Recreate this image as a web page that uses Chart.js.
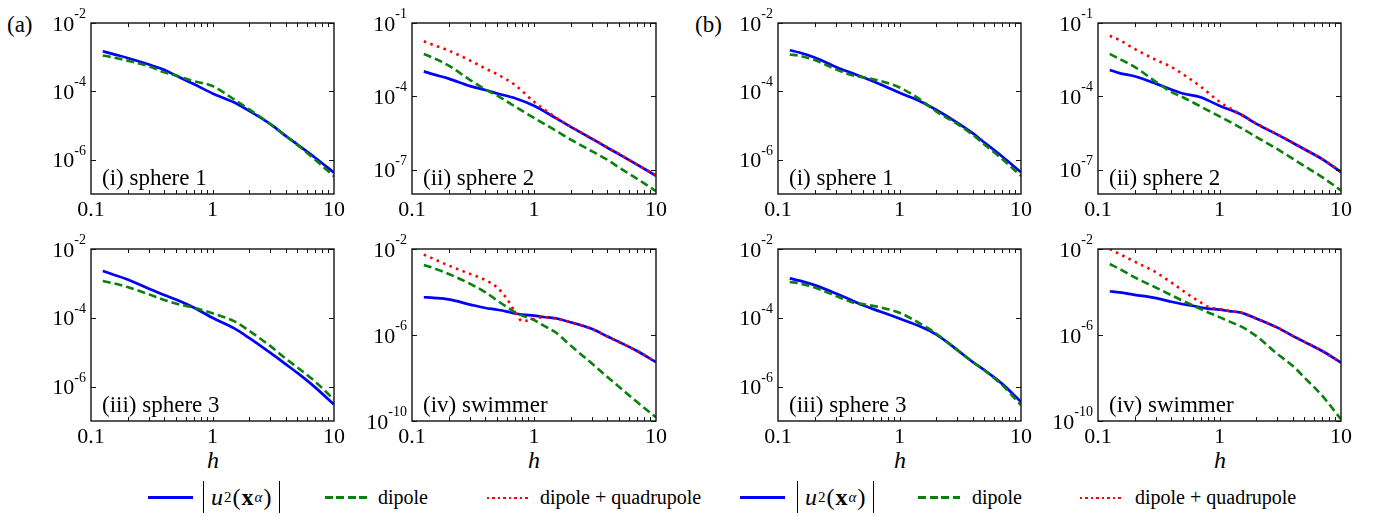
<!DOCTYPE html>
<html>
<head>
<meta charset="utf-8">
<script src="https://cdn.jsdelivr.net/npm/chart.js@4.4.1/dist/chart.umd.min.js"></script>
<style>
  body { margin:0; background:#fff; }
  #fig { position:relative; width:1379px; height:516px; overflow:hidden; font-family:"Liberation Serif","DejaVu Serif","Times New Roman",serif; color:#000; }
  #fig canvas { position:absolute; }
  .txt { position:absolute; font-size:23px; line-height:1; white-space:nowrap; }
  .hlab { position:absolute; font-size:24px; font-style:italic; line-height:1; width:30px; margin-left:-15px; text-align:center; }
  .leg { position:absolute; font-size:20px; line-height:1; white-space:nowrap; }
  .lline { position:absolute; height:3px; }
  .formula { position:absolute; height:32px; display:flex; align-items:center; border-left:1.5px solid #000; border-right:1.5px solid #000; padding:0 7px; font-size:24px; letter-spacing:1px; }
  .formula sub, .formula sup { font-size:15px; }
</style>
</head>
<body>
<div id="fig">
  <div class="txt" style="left:7px;top:13px;">(a)</div>
  <div class="txt" style="left:695px;top:13px;">(b)</div>
  <div class="hlab" style="left:213px;top:448px;">h</div>
  <div class="hlab" style="left:534px;top:448px;">h</div>
  <div class="hlab" style="left:900px;top:448px;">h</div>
  <div class="hlab" style="left:1220px;top:448px;">h</div>
</div>

<script>
// h values (x axis)
const hGrid = [0.125, 0.15, 0.2, 0.3, 0.4, 0.5, 0.7, 1, 1.5, 2, 3, 4, 5, 7, 10];
const hSwim = [0.125, 0.15, 0.2, 0.3, 0.4, 0.5, 0.6, 0.7, 0.8, 1, 1.2, 1.5, 2, 3, 4, 5, 7, 10];

// (a) panels
const a1Blue  = [1.5e-3, 1.25e-3, 9.5e-4, 6.1e-4, 4.3e-4, 2.9e-4, 1.64e-4, 8.7e-5, 4.8e-5, 2.7e-5, 1.1e-5, 5.0e-6, 2.8e-6, 1.15e-6, 4.2e-7];
const a1Green = [1.12e-3, 1.0e-3, 7.9e-4, 5.4e-4, 3.6e-4, 2.9e-4, 2.0e-4, 1.44e-4, 5.9e-5, 3.0e-5, 1.1e-5, 5.0e-6, 2.7e-6, 1.0e-6, 3.3e-7];

const a2Blue  = [1.05e-3, 7.9e-4, 5.3e-4, 2.6e-4, 1.8e-4, 1.3e-4, 8.3e-5, 4.1e-5, 1.3e-5, 5.6e-6, 1.8e-6, 7.8e-7, 4.2e-7, 1.6e-7, 5.6e-8];
const a2Green = [5.4e-3, 3.7e-3, 1.8e-3, 4.6e-4, 1.9e-4, 1.07e-4, 3.8e-5, 1.3e-5, 4.0e-6, 1.7e-6, 5.5e-7, 2.5e-7, 1.2e-7, 4.2e-8, 1.3e-8];
const a2Red   = [1.78e-2, 1.26e-2, 7.4e-3, 2.9e-3, 1.36e-3, 7.9e-4, 2.9e-4, 6.0e-5, 1.4e-5, 5.7e-6, 1.85e-6, 8.0e-7, 4.3e-7, 1.6e-7, 5.8e-8];

const a3Blue  = [2.3e-3, 1.85e-3, 1.3e-3, 7.0e-4, 4.6e-4, 3.4e-4, 2.0e-4, 1.0e-4, 5.0e-5, 2.6e-5, 9.5e-6, 4.5e-6, 2.5e-6, 9.5e-7, 3.0e-7];
const a3Green = [1.17e-3, 1.02e-3, 7.8e-4, 4.8e-4, 3.3e-4, 2.6e-4, 1.95e-4, 1.35e-4, 8.0e-5, 4.2e-5, 1.5e-5, 6.5e-6, 3.6e-6, 1.4e-6, 4.2e-7];

const a4Blue  = [5.7e-5, 5.3e-5, 4.5e-5, 2.6e-5, 1.8e-5, 1.5e-5, 1.23e-5, 1.0e-5, 8.9e-6, 8.0e-6, 6.9e-6, 6.0e-6, 3.9e-6, 1.9e-6, 8.5e-7, 4.7e-7, 1.8e-7, 5.5e-8];
const a4Green = [1.8e-3, 1.3e-3, 6.9e-4, 2.4e-4, 9.7e-5, 4.0e-5, 2.0e-5, 1.15e-5, 8.0e-6, 5.0e-6, 2.7e-6, 1.35e-6, 3.2e-7, 4.6e-8, 1.1e-8, 3.8e-9, 7.6e-10, 1.5e-10];
const a4Red   = [5.5e-3, 3.5e-3, 1.7e-3, 6.9e-4, 3.6e-4, 1.6e-4, 4.8e-5, 1.15e-5, 4.4e-6, 5.6e-6, 6.8e-6, 5.8e-6, 3.9e-6, 1.85e-6, 8.5e-7, 4.6e-7, 1.8e-7, 5.6e-8];

// (b) panels
const b1Blue  = [1.6e-3, 1.37e-3, 9.8e-4, 5.2e-4, 3.5e-4, 2.6e-4, 1.6e-4, 9.1e-5, 5.0e-5, 2.9e-5, 1.2e-5, 6.0e-6, 3.2e-6, 1.25e-6, 4.3e-7];
const b1Green = [1.2e-3, 1.1e-3, 8.2e-4, 4.4e-4, 3.0e-4, 2.6e-4, 2.0e-4, 1.3e-4, 5.6e-5, 2.6e-5, 1.1e-5, 5.4e-6, 2.8e-6, 1.05e-6, 3.4e-7];

const b2Blue  = [1.2e-3, 8.9e-4, 6.6e-4, 3.3e-4, 1.9e-4, 1.3e-4, 9.1e-5, 4.1e-5, 1.8e-5, 7.6e-6, 2.7e-6, 1.26e-6, 6.8e-7, 2.7e-7, 7.8e-8];
const b2Green = [5.4e-3, 3.4e-3, 1.6e-3, 3.9e-4, 1.5e-4, 9.1e-5, 3.8e-5, 1.5e-5, 5.1e-6, 2.2e-6, 6.8e-7, 2.8e-7, 1.4e-7, 4.9e-8, 1.4e-8];
const b2Red   = [3.0e-2, 2.0e-2, 8.7e-3, 3.1e-3, 1.6e-3, 8.0e-4, 2.5e-4, 6.0e-5, 1.8e-5, 7.8e-6, 2.75e-6, 1.28e-6, 6.8e-7, 2.7e-7, 8.3e-8];

const b3Blue  = [1.4e-3, 1.2e-3, 8.9e-4, 5.1e-4, 3.3e-4, 2.3e-4, 1.5e-4, 9.5e-5, 5.5e-5, 3.3e-5, 1.15e-5, 5.2e-6, 3.0e-6, 1.2e-6, 3.6e-7];
const b3Green = [1.1e-3, 1.0e-3, 7.6e-4, 4.3e-4, 2.9e-4, 2.5e-4, 2.0e-4, 1.4e-4, 6.6e-5, 3.5e-5, 1.15e-5, 5.2e-6, 3.0e-6, 1.1e-6, 2.9e-7];

const b4Blue  = [1.08e-4, 9.6e-5, 7.4e-5, 5.2e-5, 3.5e-5, 2.7e-5, 2.3e-5, 1.9e-5, 1.7e-5, 1.5e-5, 1.3e-5, 1.1e-5, 5.9e-6, 2.2e-6, 9.1e-7, 4.8e-7, 1.8e-7, 5.2e-8];
const b4Green = [2.0e-3, 1.2e-3, 4.8e-4, 1.6e-4, 7.2e-5, 3.9e-5, 2.4e-5, 1.6e-5, 1.15e-5, 6.8e-6, 4.3e-6, 2.5e-6, 9.1e-7, 1.3e-7, 3.7e-8, 1.05e-8, 1.5e-9, 1.2e-10];
const b4Red   = [1.0e-2, 5.9e-3, 2.6e-3, 8.2e-4, 2.8e-4, 1.15e-4, 5.6e-5, 3.3e-5, 2.1e-5, 1.6e-5, 1.3e-5, 1.1e-5, 5.9e-6, 2.2e-6, 9.1e-7, 4.8e-7, 1.8e-7, 5.2e-8];

// tick values
const xTicks = [0.1, 1, 10];
const xMinor = [0.2, 0.3, 0.4, 0.5, 0.6, 0.7, 0.8, 0.9, 1, 2, 3, 4, 5, 6, 7, 8, 9];
const ySphere = [1e-2, 1e-4, 1e-6];
const ySphere2 = [1e-1, 1e-4, 1e-7];
const ySwim = [1e-2, 1e-6, 1e-10];

const BLUE = '#0000ff', GREEN = '#0b800b', RED = '#ff0000';
const FONT = '"Liberation Serif", "DejaVu Serif", "Times New Roman", serif';
const PAD = {left: 85, right: 15, top: 22, bottom: 40};

// frame, inward ticks, tick labels, panel title
const panelDeco = {
    id: 'panelDeco',
    afterDraw(chart, args, opts) {
        const ctx = chart.ctx;
        const a = chart.chartArea;
        const xs = chart.scales.x, ys = chart.scales.y;
        ctx.save();
        ctx.strokeStyle = '#111';
        ctx.lineWidth = 1.4;
        ctx.strokeRect(a.left, a.top, a.right - a.left, a.bottom - a.top);
        ctx.lineWidth = 1;
        ctx.beginPath();
        xMinor.forEach(v => {
            const px = Math.round(xs.getPixelForValue(v)) + 0.5;
            ctx.moveTo(px, a.bottom); ctx.lineTo(px, a.bottom - 4);
            ctx.moveTo(px, a.top); ctx.lineTo(px, a.top + 4);
        });
        opts.yTicks.forEach(v => {
            const py = Math.round(ys.getPixelForValue(v)) + 0.5;
            ctx.moveTo(a.left, py); ctx.lineTo(a.left + 5, py);
            ctx.moveTo(a.right, py); ctx.lineTo(a.right - 5, py);
        });
        ctx.stroke();

        ctx.fillStyle = '#000';
        // x labels
        ctx.font = '22px ' + FONT;
        ctx.textAlign = 'center';
        ctx.textBaseline = 'alphabetic';
        xTicks.forEach(v => {
            ctx.fillText(String(v), xs.getPixelForValue(v), a.bottom + 22);
        });
        // y labels 10^n
        opts.yTicks.forEach(v => {
            const py = ys.getPixelForValue(v);
            const exp = '-' + Math.abs(Math.round(Math.log10(v)));
            ctx.font = '14px ' + FONT;
            const ew = ctx.measureText(exp).width;
            ctx.textAlign = 'left';
            ctx.fillText(exp, a.left - 5 - ew, py - 5);
            ctx.font = '22px ' + FONT;
            ctx.textAlign = 'right';
            ctx.fillText('10', a.left - 5 - ew, py + 7.5);
        });
        // title inside
        ctx.font = '23px ' + FONT;
        ctx.textAlign = 'left';
        ctx.fillText(opts.title, a.left + 11, a.bottom - 9);
        ctx.restore();
    }
};

const pts = (hs, vals) => hs.map((h, i) => ({x: h, y: vals[i]}));

const makePanel = function(p) {
    const w = (p.R - p.L) + PAD.left + PAD.right;
    const hgt = (p.B - p.T) + PAD.top + PAD.bottom;
    const cv = document.createElement('canvas');
    cv.width = w; cv.height = hgt;
    cv.style.left = (p.L - PAD.left) + 'px';
    cv.style.top = (p.T - PAD.top) + 'px';
    cv.style.width = w + 'px'; cv.style.height = hgt + 'px';
    document.getElementById('fig').appendChild(cv);

    const datasets = [];
    if (p.red) datasets.push({data: pts(p.h, p.red), borderColor: RED, borderWidth: 2.6, borderDash: [2.5, 4.5]});
    datasets.push({data: pts(p.h, p.green), borderColor: GREEN, borderWidth: 2.6, borderDash: [8, 4]});
    datasets.push({data: pts(p.h, p.blue), borderColor: BLUE, borderWidth: 2.7});

    new Chart(cv.getContext('2d'), {
        type: 'line',
        data: {datasets: datasets},
        plugins: [panelDeco],
        options: {
            responsive: false,
            animation: false,
            devicePixelRatio: 1,
            layout: {padding: PAD},
            elements: {point: {radius: 0}, line: {cubicInterpolationMode: 'monotone', fill: false}},
            scales: {
                x: {type: 'logarithmic', min: 0.1, max: 10, display: false},
                y: {type: 'logarithmic', min: p.yMin, max: p.yMax, display: false}
            },
            plugins: {
                legend: {display: false},
                tooltip: {enabled: false},
                panelDeco: {yTicks: p.yTicks, title: p.title}
            }
        }
    });
};

const panels = [
    {L: 91,   T: 23,  R: 334,  B: 194, yMin: 1e-7,  yMax: 1e-2, yTicks: ySphere,  title: '(i) sphere 1',   h: hGrid, blue: a1Blue, green: a1Green},
    {L: 412,  T: 23,  R: 656,  B: 194, yMin: 1e-8,  yMax: 1e-1, yTicks: ySphere2, title: '(ii) sphere 2',  h: hGrid, blue: a2Blue, green: a2Green, red: a2Red},
    {L: 91,   T: 249, R: 334,  B: 421, yMin: 1e-7,  yMax: 1e-2, yTicks: ySphere,  title: '(iii) sphere 3', h: hGrid, blue: a3Blue, green: a3Green},
    {L: 412,  T: 249, R: 656,  B: 421, yMin: 1e-10, yMax: 1e-2, yTicks: ySwim,    title: '(iv) swimmer',   h: hSwim, blue: a4Blue, green: a4Green, red: a4Red},
    {L: 778,  T: 23,  R: 1021, B: 194, yMin: 1e-7,  yMax: 1e-2, yTicks: ySphere,  title: '(i) sphere 1',   h: hGrid, blue: b1Blue, green: b1Green},
    {L: 1098, T: 23,  R: 1341, B: 194, yMin: 1e-8,  yMax: 1e-1, yTicks: ySphere2, title: '(ii) sphere 2',  h: hGrid, blue: b2Blue, green: b2Green, red: b2Red},
    {L: 778,  T: 249, R: 1021, B: 421, yMin: 1e-7,  yMax: 1e-2, yTicks: ySphere,  title: '(iii) sphere 3', h: hGrid, blue: b3Blue, green: b3Green},
    {L: 1098, T: 249, R: 1341, B: 421, yMin: 1e-10, yMax: 1e-2, yTicks: ySwim,    title: '(iv) swimmer',   h: hSwim, blue: b4Blue, green: b4Green, red: b4Red}
];
panels.forEach(makePanel);

// legends under (a) and (b): x positions of blue line, formula, green line, "dipole", red line, last label
const legA = [148, 203, 325, 378, 487, 540];
const legB = [740, 797, 918, 972, 1080, 1135];

const addLegend = function(x) {
    const html = `
      <div class="lline" style="left:${x[0]}px;top:496px;width:45px;background:${BLUE};"></div>
      <div class="formula" style="left:${x[1]}px;top:481px;"><i>u</i><sub>2</sub>(<b>x</b><sup><i>α</i></sup>)</div>
      <div class="lline" style="left:${x[2]}px;top:496px;width:42px;background:repeating-linear-gradient(90deg, ${GREEN} 0 8px, transparent 8px 11.5px);"></div>
      <div class="leg" style="left:${x[3]}px;top:487px;">dipole</div>
      <div class="lline" style="left:${x[4]}px;top:496.5px;width:44px;height:2.5px;background:repeating-linear-gradient(90deg, ${RED} 0 2.5px, transparent 2.5px 5.5px);"></div>
      <div class="leg" style="left:${x[5]}px;top:487px;">dipole + quadrupole</div>`;
    document.getElementById('fig').insertAdjacentHTML('beforeend', html);
};
addLegend(legA);
addLegend(legB);
</script>
</body>
</html>
